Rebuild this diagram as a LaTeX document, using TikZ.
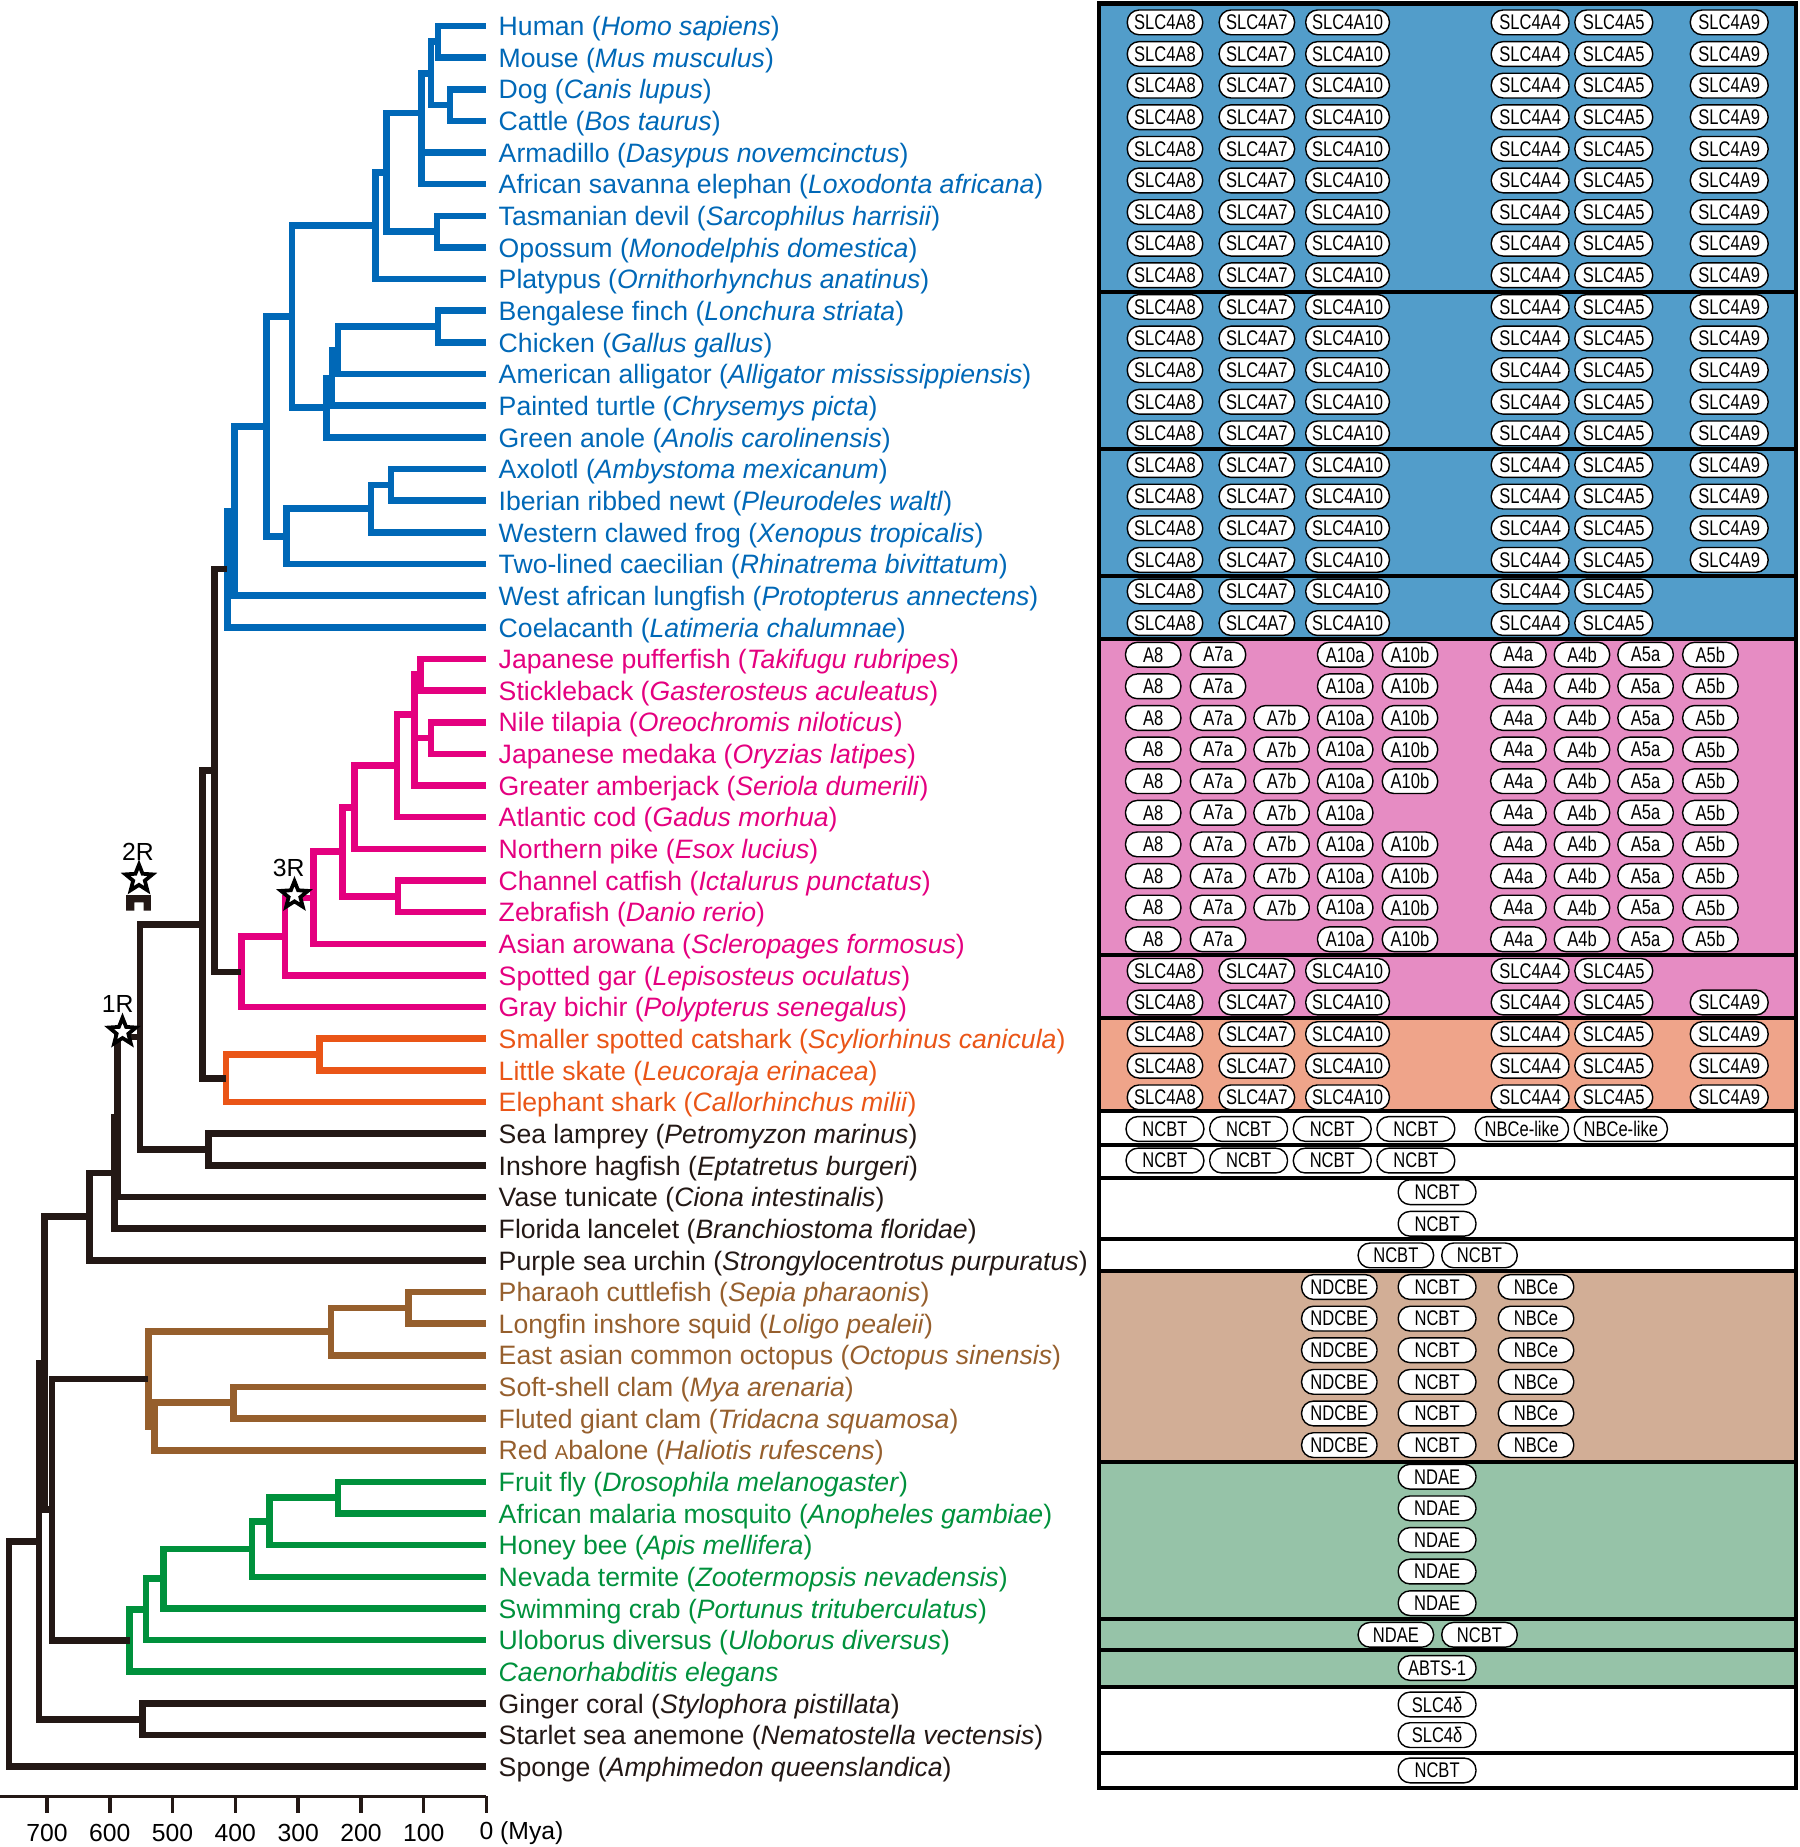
\documentclass[tikz,border=0pt]{standalone}
\usepackage{fontspec}
\setmainfont{Liberation Sans}
\newfontfamily\genefont[FakeStretch=0.78]{Liberation Sans}
\usetikzlibrary{shapes.geometric}
\definecolor{tblue}{RGB}{0,104,183}
\definecolor{tpink}{RGB}{228,0,127}
\definecolor{torange}{RGB}{234,85,23}
\definecolor{tblack}{RGB}{35,24,21}
\definecolor{tbrown}{RGB}{150,95,45}
\definecolor{tgreen}{RGB}{0,145,60}
\definecolor{bblue}{RGB}{82,157,202}
\definecolor{bpink}{RGB}{230,140,195}
\definecolor{borange}{RGB}{239,164,138}
\definecolor{bbrown}{RGB}{210,174,150}
\definecolor{bgreen}{RGB}{150,195,168}
\newcommand\ry[1]{22+26.87*(#1)}
\newcommand\elb[3]{\foreach \cc in {#3}{\draw[br,#1] (#2) |- (\cc);}}
\newcommand\lab[3]{\node[lab,text=#2] (L#1) at ([xshift=5pt,yshift=-1.2pt]t#1) {#3};}
\newcommand\generow[3]{\foreach \gx/\gw/\gt in #3 {\node[gene, minimum width=\gw pt] (g-#1-\gx) at (\gx,{#2}) {\gt};}}
\def\SixG{989/32/SLC4A8,1067/32/SLC4A7,1144/35.5/SLC4A10,1299/33/SLC4A4,1370/33/SLC4A5,1468/33/SLC4A9}
\def\FiveG{989/32/SLC4A8,1067/32/SLC4A7,1144/35.5/SLC4A10,1299/33/SLC4A4,1370/33/SLC4A5}
\def\PinkAll{979/23.5/A8,1034/23.5/A7a,1088/23.5/A7b,1142/23.5/A10a,1197/23.5/A10b,1289/23.5/A4a,1343/23.5/A4b,1397/23.5/A5a,1452/23.5/A5b}
\def\PinkNoB{979/23.5/A8,1034/23.5/A7a,1142/23.5/A10a,1197/23.5/A10b,1289/23.5/A4a,1343/23.5/A4b,1397/23.5/A5a,1452/23.5/A5b}
\def\PinkCod{979/23.5/A8,1034/23.5/A7a,1088/23.5/A7b,1142/23.5/A10a,1289/23.5/A4a,1343/23.5/A4b,1397/23.5/A5a,1452/23.5/A5b}
\def\Lamprey{989/33/NCBT,1060/33/NCBT,1131/33/NCBT,1202/33/NCBT,1292/39.5/NBCe-like,1376/39.5/NBCe-like}
\def\Hagfish{989/33/NCBT,1060/33/NCBT,1131/33/NCBT,1202/33/NCBT}
\def\OneNCBT{1220/33/NCBT}
\def\TwoNCBT{1185/32/NCBT,1256/32/NCBT}
\def\Mollusc{1137/32/NDCBE,1220/33/NCBT,1304/32/NBCe}
\def\NDAEl{1220/33/NDAE}
\def\Ulob{1185/32/NDAE,1256/32/NCBT}
\def\ABTS{1220/33/ABTS-1}
\def\SLCd{1220/33/SLC4δ}
\tikzset{
  br/.style={line width=2.8pt},
  lab/.style={anchor=west, inner sep=0pt, font=\fontsize{11.3}{13}\selectfont},
  gene/.style={draw=black, line width=0.6pt, fill=white, rounded corners=5pt,
    minimum height=10.5pt, inner sep=0pt, text=black, font=\genefont\fontsize{9}{10}\selectfont},
  boxline/.style={draw=black, line width=1.75pt},
  dupstar/.style={star, star points=5, star point ratio=2.3, draw=black, fill=white,
    line width=1.6pt, minimum size=12pt, inner sep=0pt},
  starlab/.style={inner sep=0pt, font=\fontsize{10.5}{12}\selectfont, text=black},
  axl/.style={inner sep=0pt, font=\fontsize{10.5}{12}\selectfont, text=black}
}
\begin{document}
\begin{tikzpicture}[x=0.5pt,y=-0.5pt]
\useasboundingbox (0,0) rectangle (1528,1568);

% ---------- gene panel boxes ----------
\foreach \ta/\tb/\fc in {3/248/bblue,248/381.5/bblue,381.5/489/bblue,489/542.5/bblue,
  542.5/810.5/bpink,810.5/864.5/bpink,864.5/943.5/borange,943.5/972/white,972/1000/white,
  1000/1052/white,1052/1079/white,1079/1241/bbrown,1241/1374.5/bgreen,1374.5/1401/bgreen,
  1401/1432/bgreen,1432/1488/white,1488/1518/white}
  {\fill[\fc] (933,\ta) rectangle (1525,\tb);}
\foreach \ta/\tb in {3/248,248/381.5,381.5/489,489/542.5,542.5/810.5,810.5/864.5,864.5/943.5,
  943.5/972,972/1000,1000/1052,1052/1079,1079/1241,1241/1374.5,1374.5/1401,1401/1432,
  1432/1488,1488/1518}
  {\draw[boxline] (933,\ta) rectangle (1525,\tb);}

% ---------- gene pills ----------
\foreach \r in {0,...,17} {\generow{\r}{19+26.84*\r}{\SixG}}
\foreach \r in {18,19} {\generow{\r}{19+26.84*\r}{\FiveG}}
\foreach \r in {20,21,29} {\generow{\r}{19+26.84*\r}{\PinkNoB}}
\foreach \r in {22,23,24,26,27,28} {\generow{\r}{19+26.84*\r}{\PinkAll}}
\generow{25}{19+26.84*25}{\PinkCod}
\generow{30}{19+26.84*30}{\FiveG}
\foreach \r in {31,...,34} {\generow{\r}{19+26.84*\r}{\SixG}}
\generow{35}{19+26.84*35}{\Lamprey}
\generow{36}{19+26.84*36}{\Hagfish}
\foreach \r in {37,38} {\generow{\r}{19+26.84*\r}{\OneNCBT}}
\generow{39}{19+26.84*39}{\TwoNCBT}
\foreach \r in {40,...,45} {\generow{\r}{19+26.84*\r}{\Mollusc}}
\foreach \r in {46,...,50} {\generow{\r}{19+26.84*\r}{\NDAEl}}
\generow{51}{19+26.84*51}{\Ulob}
\generow{52}{1416}{\ABTS}
\generow{53}{1447}{\SLCd}
\generow{54}{1473}{\SLCd}
\generow{55}{1503}{\OneNCBT}

% ---------- tree coordinates ----------
\foreach \i in {0,...,55} {\coordinate (t\i) at (413,{\ry{\i}});}
\foreach \n/\x/\r in {HM/372/0.5,DC/382/2.5,BO/366/1.5,PL/358/2.75,MA/371/6.5,TH/328/4.625,
  MM/319/6.31,BI/372/9.5,AR/287/10.25,AL/282/11.125,SA/277/12.06,AM/248/9.19,CA/332/14.5,
  BA/315/15.25,AP/243/16.125,TE/226/12.66,LF/199/15.33,SR/193/17.16,
  P1/357/20.5,P2/366/22.5,P3/352/21.75,CO/337/23.375,PK/301/24.69,CZ/338/27.5,CL/291/26.09,
  TL/266/27.55,NE/242/28.77,AC/205/29.89,SK/271/32.5,CH/192/33.25,
  OS/182/23.52,GN/172/28.39,CY/177/35.5,VE/119/31.94,OL/100/34.47,CR/97/36.24,DE/76/37.62,
  SQ/347/40.5,CE/281/41.25,BV/198/43.5,GB/131/44.25,MO/126/42.75,
  FM/287/46.5,HB/229/47.25,TM/214/48.125,CB/139/49.06,UL/124/50.03,EC/110/51.02,
  PR/44/46.88,BL/38/42.25,CN/121/53.5,EU/33/47.88,RT/7.6/51.44}
  {\coordinate (\n) at (\x,{\ry{\r}});}

% ---------- tree branches ----------
\elb{tblue}{HM}{t0,t1}
\elb{tblue}{DC}{t2,t3}
\elb{tblue}{BO}{HM,DC}
\elb{tblue}{PL}{BO,t4,t5}
\elb{tblue}{MA}{t6,t7}
\elb{tblue}{TH}{PL,MA}
\elb{tblue}{MM}{TH,t8}
\elb{tblue}{BI}{t9,t10}
\elb{tblue}{AR}{BI,t11}
\elb{tblue}{AL}{AR,t12}
\elb{tblue}{SA}{AL,t13}
\elb{tblue}{AM}{MM,SA}
\elb{tblue}{CA}{t14,t15}
\elb{tblue}{BA}{CA,t16}
\elb{tblue}{AP}{BA,t17}
\elb{tblue}{TE}{AM,AP}
\elb{tblue}{LF}{TE,t18}
\elb{tblue}{SR}{LF,t19}
\elb{tpink}{P1}{t20,t21}
\elb{tpink}{P2}{t22,t23}
\elb{tpink}{P3}{P1,P2,t24}
\elb{tpink}{CO}{P3,t25}
\elb{tpink}{PK}{CO,t26}
\elb{tpink}{CZ}{t27,t28}
\elb{tpink}{CL}{PK,CZ}
\elb{tpink}{TL}{CL,t29}
\elb{tpink}{NE}{TL,t30}
\elb{tpink}{AC}{NE,t31}
\elb{torange}{SK}{t32,t33}
\elb{torange}{CH}{SK,t34}
\elb{tblack}{OS}{SR,AC}
\elb{tblack}{GN}{OS,CH}
\elb{tblack}{CY}{t35,t36}
\elb{tblack}{VE}{GN,CY}
\elb{tblack}{OL}{VE,t37}
\elb{tblack}{CR}{OL,t38}
\elb{tblack}{DE}{CR,t39}
\elb{tbrown}{SQ}{t40,t41}
\elb{tbrown}{CE}{SQ,t42}
\elb{tbrown}{BV}{t43,t44}
\elb{tbrown}{GB}{BV,t45}
\elb{tbrown}{MO}{CE,GB}
\elb{tgreen}{FM}{t46,t47}
\elb{tgreen}{HB}{FM,t48}
\elb{tgreen}{TM}{HB,t49}
\elb{tgreen}{CB}{TM,t50}
\elb{tgreen}{UL}{CB,t51}
\elb{tgreen}{EC}{UL,t52}
\elb{tblack}{PR}{MO,EC}
\elb{tblack}{BL}{DE,PR}
\elb{tblack}{CN}{t53,t54}
\elb{tblack}{EU}{BL,CN}
\elb{tblack}{RT}{EU,t55}

% ---------- duplication marks ----------
\fill[tblack] (107,773) -- (107,760) -- (128,760) -- (128,773) -- (122,773) -- (122,766) -- (114,766) -- (114,773) -- cycle;
\node[dupstar] (s2) at (118,746) {};
\node[dupstar] (s3) at (250,760) {};
\node[dupstar] (s1) at (104,876) {};
\node[starlab] (l2) at (117,723) {2R};
\node[starlab] (l3) at (245,737) {3R};
\node[starlab] (l1) at (100,852) {1R};

% ---------- time axis ----------
\coordinate (axL) at (0,1525);
\coordinate (axR) at (413,1525);
\draw[line width=1.5pt, tblack] (axL) -- (axR);
\foreach \k in {0,...,7} {\draw[line width=1.5pt, tblack] ({413-53.3*\k},1525) -- ++(0,14);}
\foreach \k/\tx in {1/100,2/200,3/300,4/400,5/500,6/600,7/700}
  {\node[axl] (ax\k) at ({413-53.3*\k},1556) {\tx};}
\node[axl] (ax0) at (413,1556) {0\rlap{ (Mya)}};

% ---------- species labels ----------
\lab{0}{tblue}{Human (\textit{Homo sapiens})}
\lab{1}{tblue}{Mouse (\textit{Mus musculus})}
\lab{2}{tblue}{Dog (\textit{Canis lupus})}
\lab{3}{tblue}{Cattle (\textit{Bos taurus})}
\lab{4}{tblue}{Armadillo (\textit{Dasypus novemcinctus})}
\lab{5}{tblue}{African savanna elephan (\textit{Loxodonta africana})}
\lab{6}{tblue}{Tasmanian devil (\textit{Sarcophilus harrisii})}
\lab{7}{tblue}{Opossum (\textit{Monodelphis domestica})}
\lab{8}{tblue}{Platypus (\textit{Ornithorhynchus anatinus})}
\lab{9}{tblue}{Bengalese finch (\textit{Lonchura striata})}
\lab{10}{tblue}{Chicken (\textit{Gallus gallus})}
\lab{11}{tblue}{American alligator (\textit{Alligator mississippiensis})}
\lab{12}{tblue}{Painted turtle (\textit{Chrysemys picta})}
\lab{13}{tblue}{Green anole (\textit{Anolis carolinensis})}
\lab{14}{tblue}{Axolotl (\textit{Ambystoma mexicanum})}
\lab{15}{tblue}{Iberian ribbed newt (\textit{Pleurodeles waltl})}
\lab{16}{tblue}{Western clawed frog (\textit{Xenopus tropicalis})}
\lab{17}{tblue}{Two-lined caecilian (\textit{Rhinatrema bivittatum})}
\lab{18}{tblue}{West african lungfish (\textit{Protopterus annectens})}
\lab{19}{tblue}{Coelacanth (\textit{Latimeria chalumnae})}
\lab{20}{tpink}{Japanese pufferfish (\textit{Takifugu rubripes})}
\lab{21}{tpink}{Stickleback (\textit{Gasterosteus aculeatus})}
\lab{22}{tpink}{Nile tilapia (\textit{Oreochromis niloticus})}
\lab{23}{tpink}{Japanese medaka (\textit{Oryzias latipes})}
\lab{24}{tpink}{Greater amberjack (\textit{Seriola dumerili})}
\lab{25}{tpink}{Atlantic cod (\textit{Gadus morhua})}
\lab{26}{tpink}{Northern pike (\textit{Esox lucius})}
\lab{27}{tpink}{Channel catfish (\textit{Ictalurus punctatus})}
\lab{28}{tpink}{Zebrafish (\textit{Danio rerio})}
\lab{29}{tpink}{Asian arowana (\textit{Scleropages formosus})}
\lab{30}{tpink}{Spotted gar (\textit{Lepisosteus oculatus})}
\lab{31}{tpink}{Gray bichir (\textit{Polypterus senegalus})}
\lab{32}{torange}{Smaller spotted catshark (\textit{Scyliorhinus canicula})}
\lab{33}{torange}{Little skate (\textit{Leucoraja erinacea})}
\lab{34}{torange}{Elephant shark (\textit{Callorhinchus milii})}
\lab{35}{tblack}{Sea lamprey (\textit{Petromyzon marinus})}
\lab{36}{tblack}{Inshore hagfish (\textit{Eptatretus burgeri})}
\lab{37}{tblack}{Vase tunicate (\textit{Ciona intestinalis})}
\lab{38}{tblack}{Florida lancelet (\textit{Branchiostoma floridae})}
\lab{39}{tblack}{Purple sea urchin (\textit{Strongylocentrotus purpuratus})}
\lab{40}{tbrown}{Pharaoh cuttlefish (\textit{Sepia pharaonis})}
\lab{41}{tbrown}{Longfin inshore squid (\textit{Loligo pealeii})}
\lab{42}{tbrown}{East asian common octopus (\textit{Octopus sinensis})}
\lab{43}{tbrown}{Soft-shell clam (\textit{Mya arenaria})}
\lab{44}{tbrown}{Fluted giant clam (\textit{Tridacna squamosa})}
\lab{45}{tbrown}{Red {\fontsize{8.6}{10}\selectfont A}balone (\textit{Haliotis rufescens})}
\lab{46}{tgreen}{Fruit fly (\textit{Drosophila melanogaster})}
\lab{47}{tgreen}{African malaria mosquito (\textit{Anopheles gambiae})}
\lab{48}{tgreen}{Honey bee (\textit{Apis mellifera})}
\lab{49}{tgreen}{Nevada termite (\textit{Zootermopsis nevadensis})}
\lab{50}{tgreen}{Swimming crab (\textit{Portunus trituberculatus})}
\lab{51}{tgreen}{Uloborus diversus (\textit{Uloborus diversus})}
\lab{52}{tgreen}{\textit{Caenorhabditis elegans}}
\lab{53}{tblack}{Ginger coral (\textit{Stylophora pistillata})}
\lab{54}{tblack}{Starlet sea anemone (\textit{Nematostella vectensis})}
\lab{55}{tblack}{Sponge (\textit{Amphimedon queenslandica})}
\end{tikzpicture}
\end{document}
